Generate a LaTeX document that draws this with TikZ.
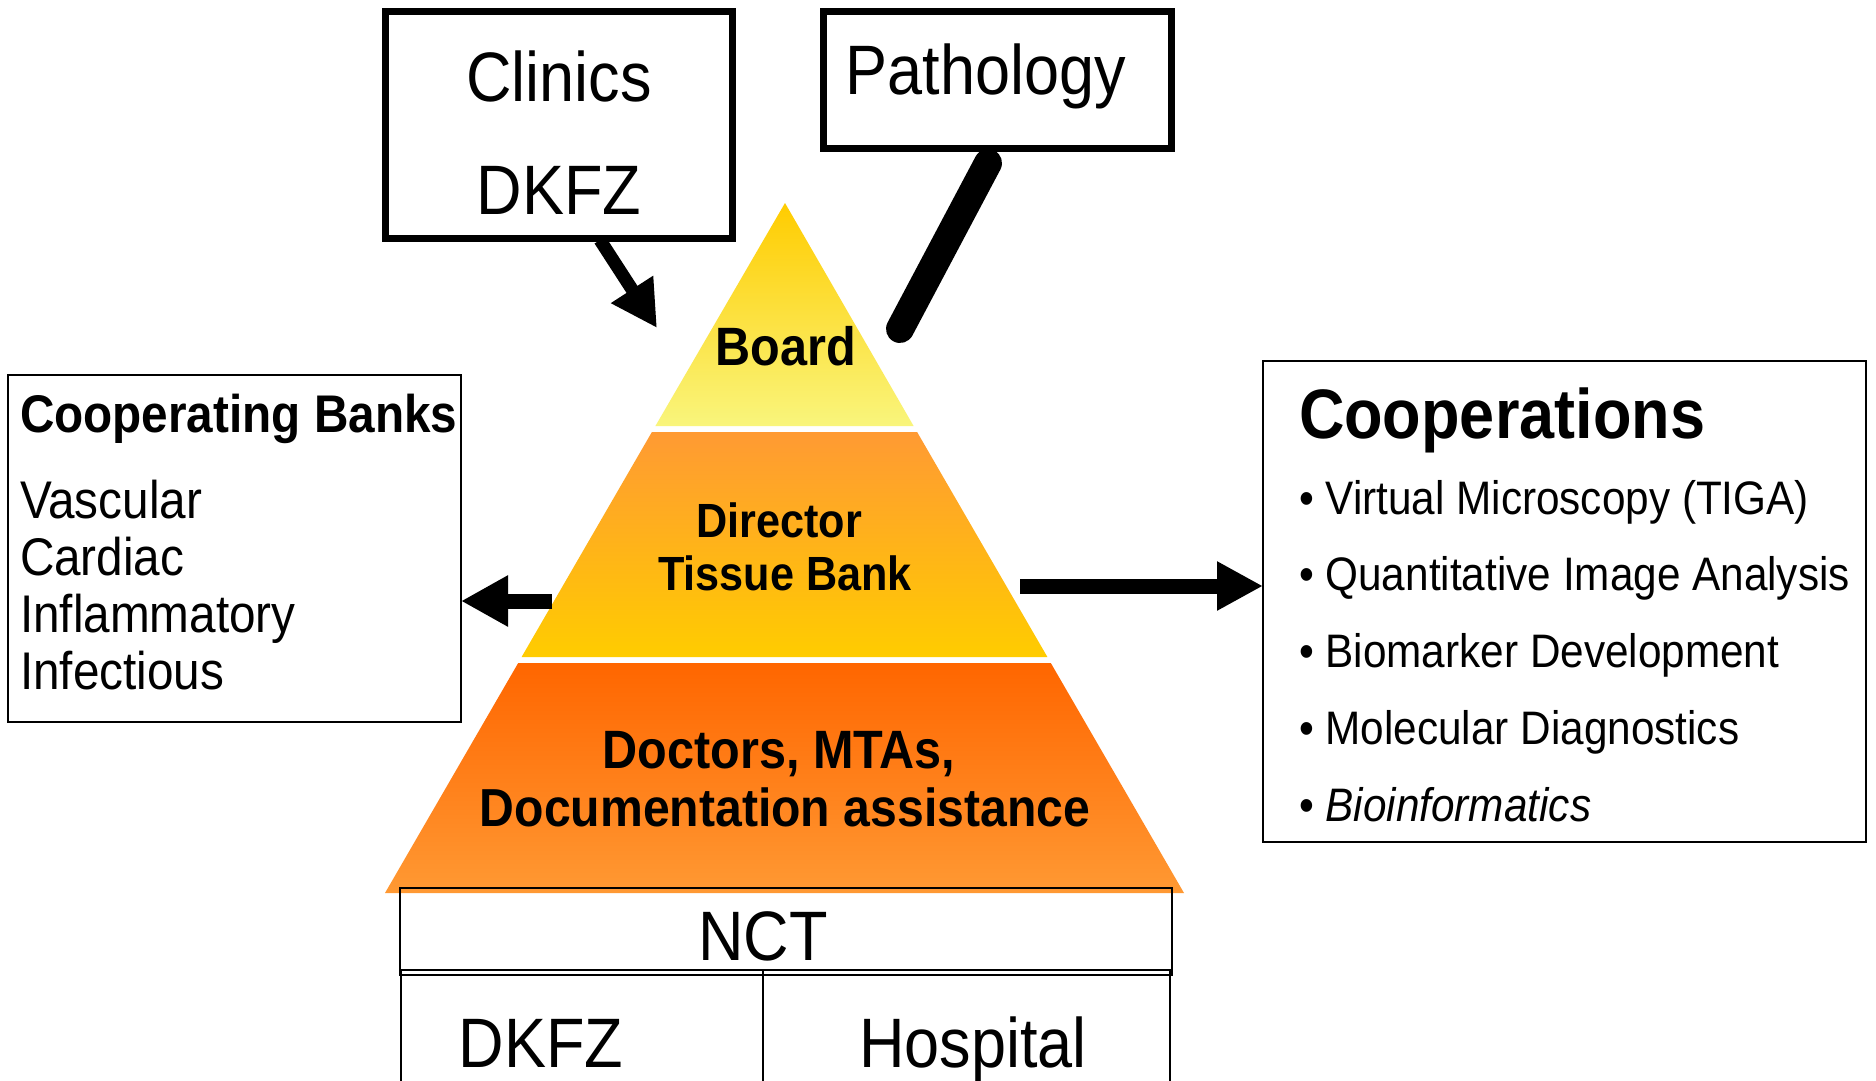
\documentclass[tikz,border=0pt]{standalone}
\usepackage{fontspec}
\setmainfont{Liberation Sans}
\newfontfamily\nf[FakeStretch=0.9]{Liberation Sans}
\newfontfamily\pf[FakeStretch=0.9]{Liberation Sans}
\usetikzlibrary{arrows.meta}
\definecolor{boardtop}{HTML}{FFCC00}
\definecolor{boardbot}{HTML}{F9F57C}
\definecolor{dirtop}{HTML}{FF9A33}
\definecolor{dirbot}{HTML}{FFCC00}
\definecolor{doctop}{HTML}{FF6600}
\definecolor{docbot}{HTML}{FF9933}
\tikzset{
  txt/.style={inner sep=0pt, outer sep=0pt},
  thickbox/.style={draw=black, line width=7pt, inner sep=0pt, outer sep=0pt},
  thinbox/.style={draw=black, line width=2pt, inner sep=0pt, outer sep=0pt},
  bigarrow/.style={draw=black, line width=15pt, -{Triangle[length=47pt,width=48pt]}},
}
\begin{document}
\begin{tikzpicture}[x=1pt,y=-1pt]
\useasboundingbox (0,0) rectangle (1876,1081);
\fill[white] (0,0) rectangle (1876,1081);

% pyramid layers
\shade[top color=boardtop, bottom color=boardbot] (785,203) -- (913.6,426) -- (655.4,426) -- cycle;
\shade[top color=dirtop, bottom color=dirbot] (651.9,432) -- (917.1,432) -- (1047.4,657) -- (521.6,657) -- cycle;
\shade[top color=doctop, bottom color=docbot] (518.2,663) -- (1050.8,663) -- (1184,893) -- (385,893) -- cycle;

\node[txt, anchor=base, font=\pf\bfseries\fontsize{54}{60}\selectfont] (board) at (786,365) {Board};
\node[txt, anchor=base, font=\pf\bfseries\fontsize{48}{58}\selectfont] (director) at (779,537) {Director};
\node[txt, anchor=base, font=\pf\bfseries\fontsize{48}{58}\selectfont] (tissue) at (785,590) {Tissue Bank};
\node[txt, anchor=base, font=\pf\bfseries\fontsize{54}{62}\selectfont] (doctors) at (779,768) {Doctors, MTAs,};
\node[txt, anchor=base, font=\pf\bfseries\fontsize{53.5}{62}\selectfont] (docu) at (785,826) {Documentation assistance};

% top boxes
\node[thickbox, minimum width=347pt, minimum height=227pt] (clinicsbox) at (559,125) {};
\node[txt, anchor=base, font=\nf\fontsize{70}{80}\selectfont] (clinics) at (559,101) {Clinics};
\node[txt, anchor=base, font=\nf\fontsize{70}{80}\selectfont] (dkfztop) at (559,214) {DKFZ};
\node[thickbox, minimum width=348pt, minimum height=137pt] (pathbox) at (997.5,80) {};
\node[txt, anchor=base, font=\nf\fontsize{70}{80}\selectfont] (pathology) at (986,95) {Pathology};

% connectors from the top boxes
\coordinate (cstart) at (600,240);
\coordinate (cend) at (657,328);
\draw[draw=black, line width=13pt, -{Triangle[length=46pt,width=47pt]}] (cstart) -- (cend);
\coordinate (pstart) at (988,163);
\coordinate (pend) at (900,329);
\draw[line width=28pt, line cap=round] (pstart) -- (pend);

% left box
\node[thinbox, minimum width=453pt, minimum height=347pt] (cbbox) at (234.5,548.5) {};
\node[txt, anchor=base west, font=\nf\bfseries\fontsize{53}{60}\selectfont] (cbtitle) at (20,432) {Cooperating Banks};
\node[txt, anchor=base west, font=\nf\fontsize{53}{60}\selectfont] (vasc) at (20,518) {Vascular};
\node[txt, anchor=base west, font=\nf\fontsize{53}{60}\selectfont] (card) at (20,575) {Cardiac};
\node[txt, anchor=base west, font=\nf\fontsize{53}{60}\selectfont] (infl) at (20,632) {Inflammatory};
\node[txt, anchor=base west, font=\nf\fontsize{53}{60}\selectfont] (infe) at (20,689) {Infectious};

% right box
\node[thinbox, minimum width=603pt, minimum height=481pt] (coopbox) at (1564.5,601.5) {};
\node[txt, anchor=base west, font=\nf\bfseries\fontsize{70}{80}\selectfont] (cooptitle) at (1299,438) {Cooperations};
\node[txt, anchor=base west, font=\nf\fontsize{47}{56}\selectfont] (c1) at (1299,514) {• Virtual Microscopy (TIGA)};
\node[txt, anchor=base west, font=\nf\fontsize{47}{56}\selectfont] (c2) at (1299,590) {• Quantitative Image Analysis};
\node[txt, anchor=base west, font=\nf\fontsize{47}{56}\selectfont] (c3) at (1299,667) {• Biomarker Development};
\node[txt, anchor=base west, font=\nf\fontsize{47}{56}\selectfont] (c4) at (1299,744) {• Molecular Diagnostics};
\node[txt, anchor=base west, font=\nf\fontsize{47}{56}\selectfont] (c5) at (1299,821) {• \itshape Bioinformatics};

% side arrows
\coordinate (lstart) at (552,601);
\draw[bigarrow] (lstart) -- (lstart -| cbbox.east);
\coordinate (rstart) at (1020,586);
\draw[bigarrow, -{Triangle[length=46pt,width=46pt]}] (rstart) -- (rstart -| coopbox.west);

% NCT table
\node[draw=black, line width=2pt, minimum width=772pt, minimum height=87pt, inner sep=0pt] (nctbox) at (786,931.5) {};
\node[txt, anchor=base, font=\nf\fontsize{70}{80}\selectfont] (nct) at (763,960) {NCT};
\draw[line width=1.6pt] (401,1090) -- (401,970) -- (1170,970) -- (1170,1090);
\draw[line width=1.6pt] (763,970) -- (763,1090);
\node[txt, anchor=base, font=\nf\fontsize{70}{80}\selectfont] (dkfzbot) at (541,1067) {DKFZ};
\node[txt, anchor=base, font=\nf\fontsize{70}{80}\selectfont] (hosp) at (973,1067) {Hospital};
\end{tikzpicture}
\end{document}
